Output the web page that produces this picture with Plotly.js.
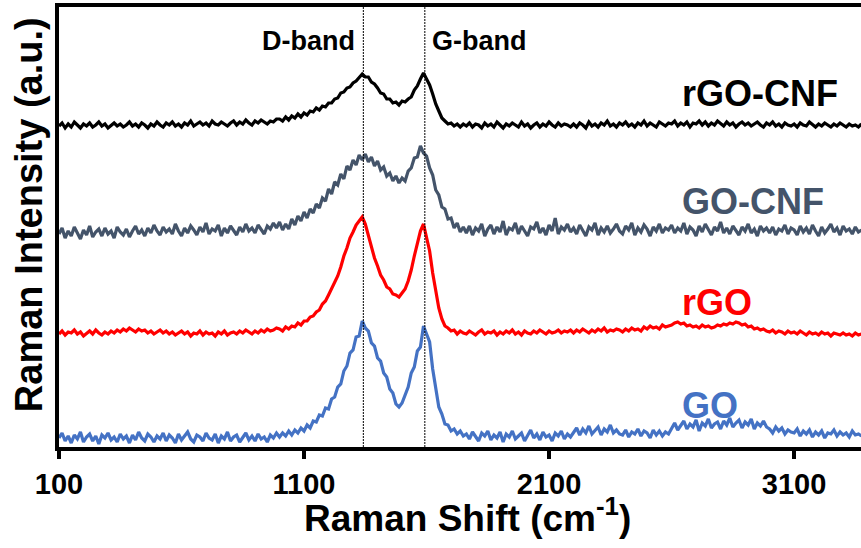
<!DOCTYPE html>
<html>
<head>
<meta charset="utf-8">
<script src="https://cdn.plot.ly/plotly-3.0.1.min.js"></script>
<style>html,body{margin:0;padding:0;background:#fff;}#chart{width:861px;height:548px;}</style>
</head>
<body>
<div id="chart"></div>
<script>
// Raman shift (cm-1)
const ramanShift = [
100,112.5,125,137.5,150,162.5,175,187.5,200,212.5,225,237.5,250,262.5,275,287.5,300,312.5,325,337.5,350,362.5,375,387.5,400,412.5,425,437.5,450,462.5,475,487.5,500,512.5,525,537.5,
550,562.5,575,587.5,600,612.5,625,637.5,650,662.5,675,687.5,700,712.5,725,737.5,750,762.5,775,787.5,800,812.5,825,837.5,850,862.5,875,887.5,900,912.5,925,937.5,950,962.5,975,987.5,
1000,1012.5,1025,1037.5,1050,1062.5,1075,1087.5,1100,1112.5,1125,1137.5,1150,1162.5,1175,1187.5,1200,1212.5,1225,1237.5,
1250,1262.5,1275,1287.5,1300,1312.5,1325,1337.5,1350,1362.5,1375,1387.5,1400,1412.5,1425,1437.5,1450,1462.5,1475,1487.5,
1500,1512.5,1525,1537.5,1550,1562.5,1575,1587.5,1600,1612.5,1625,1637.5,1650,1662.5,1675,1687.5,1700,1712.5,1725,1737.5,1750,
1762.5,1775,1787.5,1800,1812.5,1825,1837.5,1850,1862.5,1875,1887.5,1900,1912.5,1925,1937.5,1950,1962.5,1975,1987.5,2000,2012.5,2025,2037.5,2050,2062.5,2075,2087.5,2100,2112.5,2125,2137.5,2150,2162.5,2175,2187.5,
2200,2212.5,2225,2237.5,2250,2262.5,2275,2287.5,2300,2312.5,2325,2337.5,2350,2362.5,2375,2387.5,
2400,2412.5,2425,2437.5,2450,2462.5,2475,2487.5,2500,2512.5,2525,2537.5,2550,2562.5,2575,2587.5,
2600,2612.5,2625,2637.5,2650,2662.5,2675,2687.5,2700,2712.5,2725,2737.5,2750,2762.5,2775,2787.5,2800,2812.5,2825,2837.5,2850,2862.5,2875,2887.5,2900,2912.5,2925,2937.5,2950,2962.5,2975,2987.5,
3000,3012.5,3025,3037.5,3050,3062.5,3075,3087.5,
3100,3112.5,3125,3137.5,3150,3162.5,3175,3187.5,3200,3212.5,3225,3237.5,3250,3262.5,3275,3287.5,3300,3312.5,3325,3337.5,3350,3362.5,3375];

// Offset intensities (a.u.)
const intensityGO = [
9,14,6,11,4,12,8,15,5,10,13,6,11,3,12,9,14,7,10,5,13,8,11,4,12,7,15,9,6,13,10,5,11,8,14,6,
12,9,4,13,7,11,15,8,5,12,10,6,14,9,7,13,4,11,8,15,6,10,12,5,9,14,7,11,6,13,8,10,5,12,9,14,
10,14,11,16,12,17,14,19,16,22,19,26,25,32,31,39,38,48,50,60,
63,76,81,94,97,110,111,126,119,116,104,101,89,86,74,70,58,54,43,40,
44,53,60,74,80,96,100,121,114,105,78,60,40,33,23,22,16,18,13,16,11,
13,8,15,10,6,14,11,16,7,12,9,15,5,13,10,16,8,11,14,6,12,17,9,13,7,15,10,12,6,14,11,16,8,13,10,
15,19,12,18,14,21,13,17,20,12,18,15,22,14,17,13,
12,17,10,15,13,18,11,16,14,9,17,12,16,11,15,13,
19,24,17,22,26,18,23,20,27,16,24,21,28,19,23,25,18,26,22,29,20,24,27,19,25,22,28,18,24,21,26,20,
18,14,20,16,19,13,17,15,
14,18,11,16,13,17,10,15,12,16,9,14,13,17,11,15,12,14,10,16,12,13,11];

const intensityRGO = [
113,116,112,115,114,117,113,115,111,114,116,113,117,114,112,115,113,116,114,117,115,118,116,119,117,115,118,116,117,114,116,113,115,117,114,116,
113,115,112,114,116,113,115,111,114,113,116,112,115,113,114,111,115,113,116,112,114,115,113,116,114,117,115,113,116,114,117,115,118,116,117,119,
118,116,120,118,121,120,124,122,126,126,130,131,135,137,143,146,152,158,164,171,
180,191,199,209,215,222,226,230,223,212,201,189,181,172,167,160,158,153,152,150,
154,158,166,177,191,203,216,223,211,196,174,155,139,128,121,119,116,117,113,116,114,
113,116,114,112,115,117,113,115,114,116,112,115,113,116,114,117,113,115,112,116,114,113,116,114,117,115,113,116,114,115,117,114,116,115,117,
114,117,115,118,116,114,117,115,118,116,119,115,117,116,118,117,
115,118,116,119,117,118,116,120,118,121,119,120,118,122,120,121,
122,124,125,123,124,121,122,120,121,119,122,120,121,119,120,122,121,123,122,124,123,125,124,122,123,120,121,118,119,117,118,116,
115,117,114,116,115,113,116,114,
115,113,116,114,112,115,113,114,112,115,113,114,111,114,113,112,114,112,113,111,114,112,113];

const intensityGOCNF = [
213,219,209,216,211,220,214,208,217,212,221,210,215,218,211,219,213,216,209,220,215,212,218,210,216,221,213,217,211,219,214,222,216,212,220,215,
218,213,223,216,211,219,214,221,217,212,220,215,224,213,218,216,222,211,219,214,221,217,212,220,215,223,216,219,214,222,217,213,221,218,224,219,
225,217,223,218,228,222,231,226,235,229,238,234,243,239,249,246,258,253,265,262,
273,268,281,277,287,282,292,287,293,285,290,281,286,277,280,271,274,266,271,264,
269,266,276,279,289,290,301,294,291,279,272,257,252,240,238,228,229,219,224,215,220,
214,221,212,219,216,223,211,218,222,213,220,215,226,212,219,217,224,213,221,216,211,220,218,225,214,219,212,222,216,229,213,220,217,223,215,
219,213,222,216,211,220,217,224,212,219,215,221,214,218,223,216,
213,221,217,224,212,219,215,222,218,211,220,216,223,214,219,217,
222,214,219,216,224,213,220,217,211,221,215,223,218,212,220,216,225,214,219,213,221,217,212,220,216,223,214,218,211,221,216,219,
214,220,212,218,216,222,213,219,
217,212,221,215,219,213,222,216,211,220,214,218,223,215,219,212,221,216,218,213,220,215,217];

const intensityRGOCNF = [
321,324,319,323,320,325,322,319,323,321,324,320,322,325,321,323,319,322,324,321,323,320,322,325,321,323,320,324,322,319,323,321,325,322,320,324,
322,325,321,323,320,324,322,326,321,323,325,322,324,321,326,323,322,325,323,321,324,326,322,325,323,327,324,322,326,324,327,325,323,326,325,328,
328,326,330,327,331,329,333,330,334,332,336,335,339,337,341,340,344,344,348,349,
354,355,359,360,364,366,370,373,370,370,365,363,359,354,353,348,348,344,345,342,
346,345,348,350,357,361,368,374,368,362,353,343,336,329,326,323,324,321,323,320,323,
321,324,320,323,322,319,324,321,323,320,325,322,319,323,321,324,322,320,325,321,323,319,322,324,320,323,321,325,322,320,324,321,323,322,320,
323,320,324,322,319,325,321,323,320,324,322,326,321,323,320,324,
322,325,321,323,320,324,322,326,321,324,322,320,325,323,321,324,
323,326,321,324,322,325,320,324,323,326,322,325,321,324,322,326,323,321,325,322,324,320,323,325,322,324,321,323,325,322,320,324,
322,325,321,323,320,324,322,321,
323,320,324,322,321,325,322,320,323,321,324,322,320,323,321,324,322,320,323,321,322,320,323];

const seriesNames = ["GO", "rGO", "GO-CNF", "rGO-CNF"];
const seriesColors = ["#4472C4", "#FF0000", "#44546A", "#000000"];
const seriesValues = [intensityGO, intensityRGO, intensityGOCNF, intensityRGOCNF];
const labelY = [42, 145, 246, 354];

const bandNames = ["D-band", "G-band"];
const bandPositions = [1342, 1593];

const tickValues = [100, 1100, 2100, 3100];

const FONT = "Liberation Sans, Arial, sans-serif";

const traces = seriesNames.map((n, i) => ({
  type: "scatter", mode: "lines", name: n,
  x: ramanShift, y: seriesValues[i],
  line: {color: seriesColors[i], width: 3.2},
  hoverinfo: "skip"
}));

const annotations = seriesNames.map((n, i) => ({
  text: n, xref: "x", yref: "y", x: 2633, y: labelY[i],
  xanchor: "left", yanchor: "middle", showarrow: false,
  font: {family: FONT, size: 36, weight: "bold", color: seriesColors[i]}
}));
annotations.push({
  text: bandNames[0], xref: "x", yref: "y", x: 1318, y: 406,
  xanchor: "right", yanchor: "middle", showarrow: false,
  font: {family: FONT, size: 27, weight: "bold", color: "#000"}
});
annotations.push({
  text: bandNames[1], xref: "x", yref: "y", x: 1613, y: 406,
  xanchor: "left", yanchor: "middle", showarrow: false,
  font: {family: FONT, size: 27, weight: "bold", color: "#000"}
});
annotations.push({
  text: "Raman Intensity (a.u.)", xref: "paper", yref: "paper",
  x: -0.0374, y: 0.527, xanchor: "center", yanchor: "middle",
  textangle: -90, showarrow: false,
  font: {family: FONT, size: 38, weight: "bold", color: "#000"}
});
annotations.push({
  text: "Raman Shift (cm<sup>-1</sup>)", xref: "paper", yref: "paper",
  x: 0.509, y: -0.155, xanchor: "center", yanchor: "middle",
  showarrow: false,
  font: {family: FONT, size: 37, weight: "bold", color: "#000"}
});

const shapes = bandPositions.map(p => ({
  type: "line", xref: "x", yref: "paper", x0: p, x1: p, y0: 0, y1: 1,
  line: {color: "#000", width: 1, dash: "2px,1px"}
}));

const layout = {
  width: 861, height: 548,
  margin: {l: 59, r: 0, t: 7, b: 101},
  paper_bgcolor: "#fff", plot_bgcolor: "#fff",
  showlegend: false,
  xaxis: {
    range: [100, 3373], tickvals: tickValues, ticktext: tickValues.map(String),
    ticks: "outside", ticklen: 8, tickwidth: 4, tickcolor: "#000",
    showline: true, linewidth: 4, linecolor: "#000", mirror: true,
    showgrid: false, zeroline: false,
    tickfont: {family: FONT, size: 29, weight: "bold", color: "#000"}
  },
  yaxis: {
    range: [0, 440], showticklabels: false, ticks: "",
    showline: true, linewidth: 4, linecolor: "#000",
    showgrid: false, zeroline: false
  },
  annotations: annotations,
  shapes: shapes
};

Plotly.newPlot("chart", traces, layout, {displayModeBar: false, staticPlot: true});
</script>
</body>
</html>
